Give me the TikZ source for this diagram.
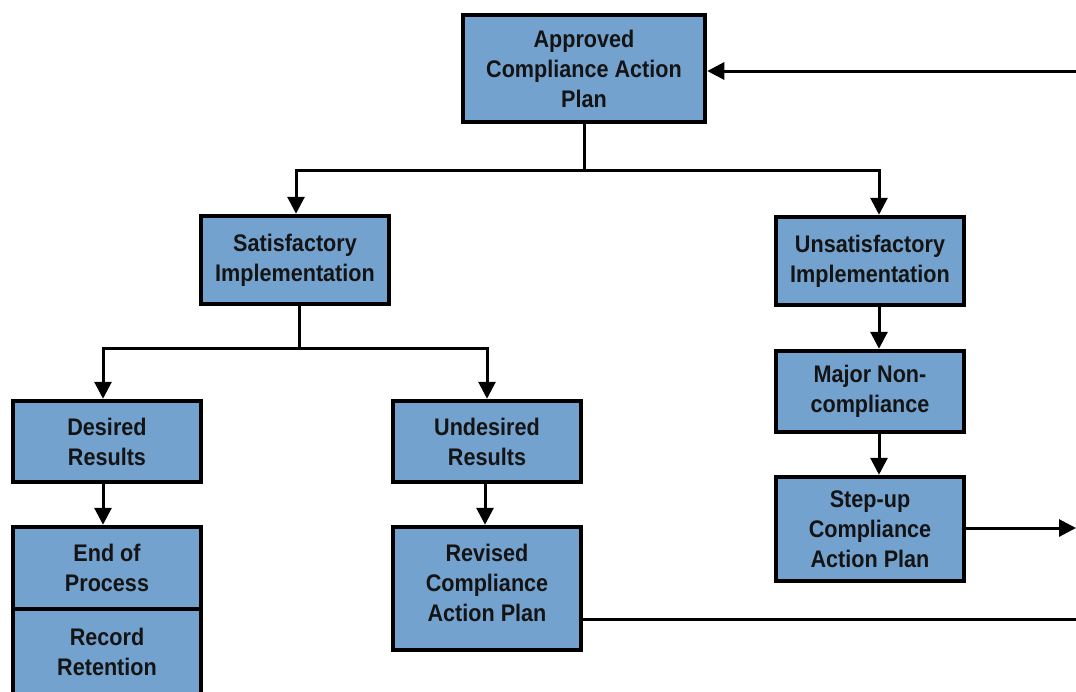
\documentclass[tikz,border=0pt]{standalone}
\usepackage{fontspec}
\setmainfont{Liberation Sans}[FakeStretch=0.9]
\usetikzlibrary{arrows.meta}
\definecolor{boxblue}{HTML}{74A2CF}

\begin{document}
\begin{tikzpicture}[x=1pt,y=-1pt,font=\fontsize{24}{30}\selectfont\bfseries,>={Triangle[length=17pt,width=17pt]},
  procbox/.style={rectangle,fill=boxblue,draw=black,line width=4.5pt,inner sep=0pt,align=center,text=black!92,minimum width=188pt},
  flow/.style={draw=black,line width=3pt}]
\useasboundingbox (0,0) rectangle (1076,691);
% boxes
\node[procbox,minimum width=242pt,minimum height=107pt] (approved) at (584,68.5) {Approved\\Compliance Action\\Plan};
\node[procbox,minimum height=88pt] (satis) at (295,260) {Satisfactory\\Implementation};
\node[procbox,minimum height=88pt] (unsat) at (870,261) {Unsatisfactory\\Implementation};
\node[procbox,minimum height=81pt] (desired) at (107,441.5) {Desired\\Results};
\node[procbox,minimum height=81pt] (undesired) at (487,441.5) {Undesired\\Results};
\node[procbox,minimum height=81pt] (major) at (870,391.5) {Major Non-\\compliance};
\node[procbox,minimum height=104pt] (stepup) at (870,529) {Step-up\\Compliance\\Action Plan};
\node[procbox,minimum height=123pt,text depth=11pt] (revised) at (487,588.5) {Revised\\Compliance\\Action Plan};
\node[procbox,minimum height=82pt] (endproc) at (107,568) {End of\\Process};
\node[procbox,minimum height=102pt,text depth=16pt] (record) at (107,660) {Record\\Retention};
% edge coordinates
\coordinate (loopin) at (1076,71);
\coordinate (stepout) at (1076,528);
\coordinate (revout) at (1076,619);
% connectors
\draw[flow] (approved.south) -- ++(0,46) coordinate (split1);
\draw[flow,->] (split1) -| ([xshift=1pt]satis.north);
\draw[flow,->] (split1) -| ([xshift=9pt]unsat.north);
\draw[flow] ([xshift=4pt]satis.south) -- ++(0,42) coordinate (split2);
\draw[flow,->] (split2) -| ([xshift=-4pt]desired.north);
\draw[flow,->] (split2) -| (undesired.north);
\draw[flow,->] ([xshift=-4pt]desired.south) -- ([xshift=-4pt]endproc.north);
\draw[flow,->] ([xshift=-2pt]undesired.south) -- ([xshift=-2pt]revised.north);
\draw[flow,->] ([xshift=9pt]unsat.south) -- ([xshift=9pt]major.north);
\draw[flow,->] ([xshift=9pt]major.south) -- ([xshift=9pt]stepup.north);
\draw[flow,->] (loopin) -- (approved.east |- loopin);
\draw[flow,->] (stepup.east |- stepout) -- (stepout);
\draw[flow] (revised.east |- revout) -- (revout);
\end{tikzpicture}
\end{document}
